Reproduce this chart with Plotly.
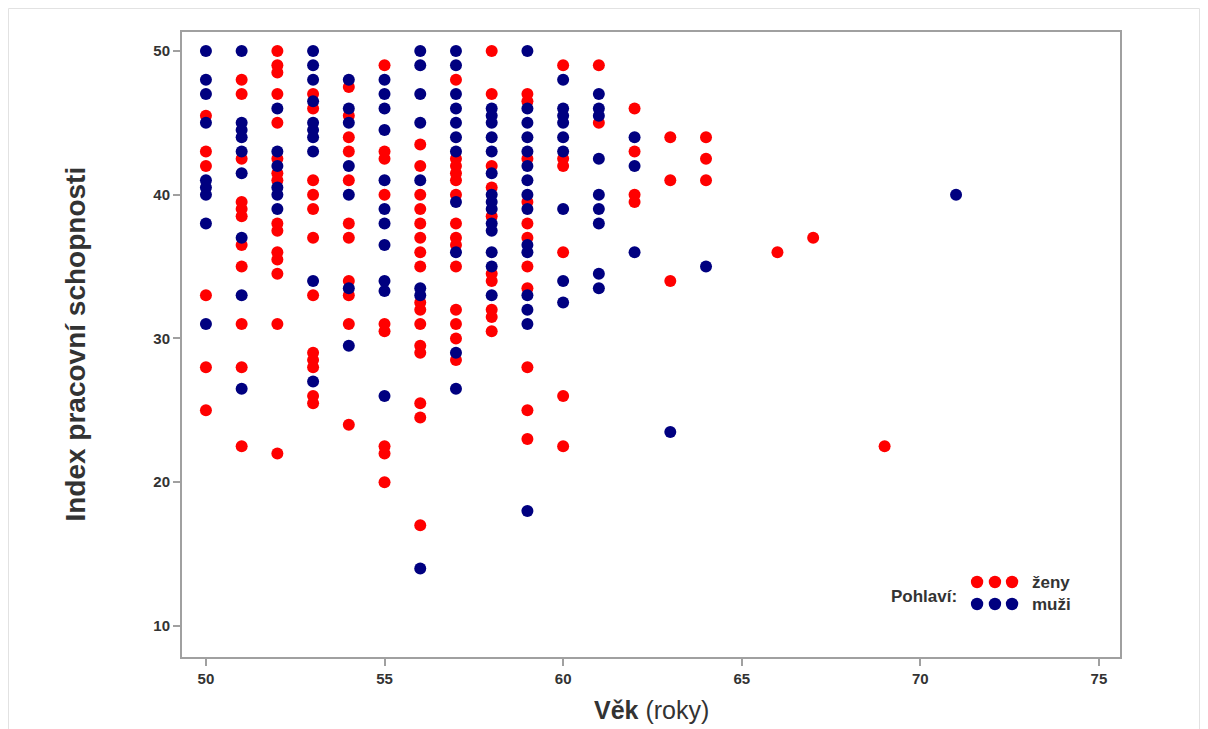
import plotly.graph_objects as go

# ---- data ----
zeny_vek = (
    [50] * 6 + [51] * 11 + [52] * 15 + [53] * 12 + [54] * 11 + [55] * 9 +
    [56] * 16 + [57] * 14 + [58] * 10 + [59] * 11 + [60] * 6 + [61] * 2 +
    [62] * 4 + [63] * 3 + [64] * 3 + [66, 67, 69]
)
zeny_index = [
    45.5, 43, 42, 33, 28, 25,
    48, 47, 42.5, 39.5, 39, 38.5, 36.5, 35, 31, 28, 22.5,
    50, 49, 48.5, 47, 45, 42.5, 41.5, 41, 38, 37.5, 36, 35.5, 34.5, 31, 22,
    47, 46, 41, 40, 39, 37, 33, 29, 28.5, 28, 26, 25.5,
    47.5, 45.5, 44, 43, 41, 38, 37, 34, 33, 31, 24,
    49, 43, 42.5, 40, 31, 30.5, 22.5, 22, 20,
    43.5, 42, 40, 39, 38, 37, 36, 35, 32.5, 32, 31, 29.5, 29, 25.5, 24.5, 17,
    48, 42.5, 42, 41.5, 41, 40, 38, 37, 36.5, 35, 32, 31, 30, 28.5,
    50, 47, 42, 40.5, 38.5, 34.5, 34, 32, 31.5, 30.5,
    47, 46.5, 42.5, 39.5, 38, 37, 35, 33.5, 28, 25, 23,
    49, 42.5, 42, 36, 26, 22.5,
    49, 45,
    46, 43, 40, 39.5,
    44, 41, 34,
    44, 42.5, 41,
    36, 37, 22.5,
]

muzi_vek = (
    [50] * 9 + [51] * 9 + [52] * 6 + [53] * 10 + [54] * 7 + [55] * 11 +
    [56] * 8 + [57] * 11 + [58] * 14 + [59] * 15 + [60] * 9 + [61] * 9 +
    [62] * 3 + [63, 64, 71]
)
muzi_index = [
    50, 48, 47, 45, 41, 40.5, 40, 38, 31,
    50, 45, 44.5, 44, 43, 41.5, 37, 33, 26.5,
    46, 43, 42, 40.5, 40, 39,
    50, 49, 48, 46.5, 45, 44.5, 44, 43, 34, 27,
    48, 46, 45, 42, 40, 33.5, 29.5,
    48, 47, 46, 44.5, 41, 39, 38, 36.5, 34, 33.3, 26,
    50, 49, 47, 45, 41, 33.5, 33, 14,
    50, 49, 47, 46, 45, 44, 43, 39.5, 36, 29, 26.5,
    46, 45.5, 45, 44, 43, 41.5, 40, 39.5, 39, 38, 37.5, 36, 35, 33,
    50, 46, 45, 44, 43, 42, 41, 40, 39, 36.5, 36, 33, 32, 31, 18,
    48, 46, 45.5, 45, 44, 43, 39, 34, 32.5,
    47, 46, 45.5, 42.5, 40, 39, 38, 34.5, 33.5,
    44, 42, 36,
    23.5, 35, 40,
]

x_ticks = [50, 55, 60, 65, 70, 75]
y_ticks = [10, 20, 30, 40, 50]
legend_labels = ["ženy", "muži"]
legend_title = "Pohlaví:"

RED = "#FF0000"
NAVY = "#000080"
TXT = "#333333"
AXIS = "#A0A0A0"
FONT = "Liberation Sans, Arial, sans-serif"

fig = go.Figure()
fig.add_trace(go.Scatter(x=zeny_vek, y=zeny_index, mode="markers", name=legend_labels[0],
                         marker=dict(color=RED, size=12, line=dict(width=0)), showlegend=False))
fig.add_trace(go.Scatter(x=muzi_vek, y=muzi_index, mode="markers", name=legend_labels[1],
                         marker=dict(color=NAVY, size=12, line=dict(width=0)), showlegend=False))

axis_common = dict(
    showgrid=False, zeroline=False, showline=True, linecolor=AXIS, linewidth=2, mirror=True,
    ticks="outside", ticklen=7, tickcolor=AXIS, tickwidth=2,
    tickfont=dict(family=FONT, size=15, color=TXT),
)
fig.update_xaxes(range=[49.33, 75.59], tickvals=x_ticks,
                 ticktext=["<b>%d</b>" % v for v in x_ticks], **axis_common)
fig.update_yaxes(range=[7.84, 51.32], tickvals=y_ticks,
                 ticktext=["<b>%d</b>" % v for v in y_ticks], **axis_common)

# legend drawn manually (three dots per item like the original)
for i, col in enumerate([RED, NAVY]):
    yy = 0.120 - i * 0.0352
    for xx in [0.8476, 0.8667, 0.8849]:
        fig.add_shape(type="circle", xref="paper", yref="paper",
                      x0=xx - 0.0066, x1=xx + 0.0066, y0=yy - 0.0099, y1=yy + 0.0099,
                      fillcolor=col, line=dict(width=0))
    fig.add_annotation(x=0.904, y=yy, xref="paper", yref="paper", text="<b>%s</b>" % legend_labels[i],
                       showarrow=False, xanchor="left", yanchor="middle",
                       font=dict(family=FONT, size=17, color=TXT))
fig.add_annotation(x=0.828, y=0.0976, xref="paper", yref="paper", text="<b>%s</b>" % legend_title,
                   showarrow=False, xanchor="right", yanchor="middle",
                   font=dict(family=FONT, size=17, color=TXT))

# axis titles
fig.add_annotation(x=-0.114, y=0.5, xref="paper", yref="paper", text="<b>Index pracovní schopnosti</b>",
                   textangle=-90, showarrow=False, xanchor="center", yanchor="middle",
                   font=dict(family=FONT, size=28, color=TXT))
fig.add_annotation(x=0.5, y=-0.085, xref="paper", yref="paper", text="<b>Věk</b> (roky)",
                   showarrow=False, xanchor="center", yanchor="middle",
                   font=dict(family=FONT, size=25, color=TXT))

# thin page frame as in the source screenshot
fig.add_shape(type="rect", xref="paper", yref="paper",
              x0=-0.18497, x1=1.08475, y0=-0.3, y1=1.0376,
              line=dict(color="#E2E2E2", width=1), fillcolor="rgba(0,0,0,0)", layer="below")

fig.update_layout(
    width=1200, height=721,
    margin=dict(l=174, r=88, t=24, b=72),
    paper_bgcolor="white", plot_bgcolor="white",
)

fig.write_html("out.html")
